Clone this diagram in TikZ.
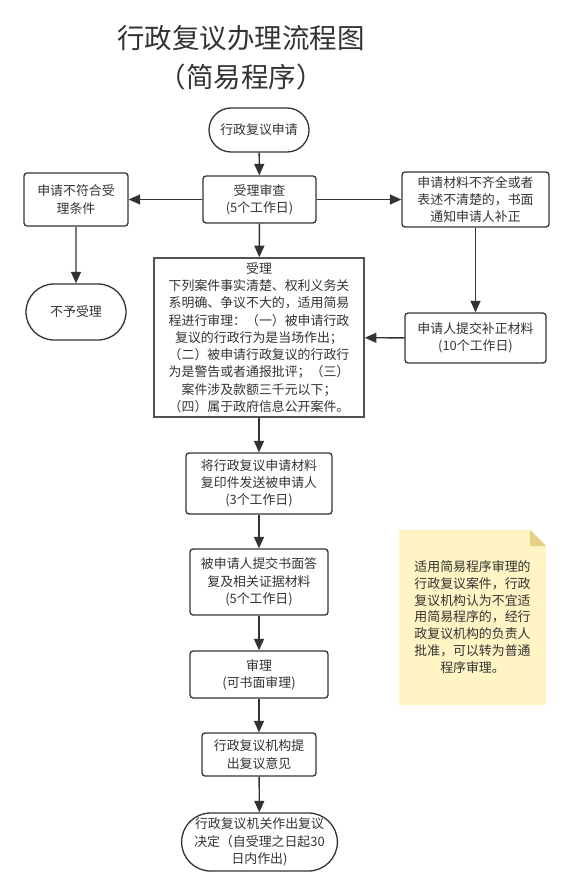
\documentclass[tikz,border=0pt]{standalone}
\usepackage{fontspec}
\setmainfont{Noto Sans CJK SC}
\usetikzlibrary{arrows.meta,shapes.misc}
\definecolor{ink}{HTML}{333333}
\definecolor{notefill}{HTML}{FFF4C3}
\definecolor{notefold}{HTML}{E6CF86}
\begin{document}
\begin{tikzpicture}[x=1pt,y=-1pt,
  every node/.style={text=ink,font=\fontsize{12.9}{17.3}\selectfont,align=center,inner sep=0pt},
  procbox/.style={draw=ink,line width=1.3pt,rounded corners=3pt,fill=white},
  pill/.style={draw=ink,line width=1.3pt,rounded rectangle,fill=white},
  bigbox/.style={draw=ink!85,line width=1.6pt,fill=white},
  flow/.style={draw=ink,line width=1.4pt,-{Triangle[length=11.5pt,width=10pt]}}]
\useasboundingbox (0,0) rectangle (573,896);
% title
\node[font=\fontsize{27.5}{39}\selectfont] (title) at (241,58) {行政复议办理流程图\\（简易程序）};
% nodes
\node[pill,minimum width=100pt,minimum height=44pt] (start) at (259,130) {行政复议申请};
\node[procbox,minimum width=113pt,minimum height=47pt] (review) at (259.5,199.5) {受理审查\\(5个工作日)};
\node[procbox,minimum width=104pt,minimum height=53pt] (left) at (76,199.5) {申请不符合受\\理条件};
\node[pill,minimum width=100pt,minimum height=56pt] (reject) at (76,312) {不予受理};
\node[procbox,minimum width=147pt,minimum height=55pt] (right) at (475.5,199.5) {申请材料不齐全或者\\表述不清楚的，书面\\通知申请人补正};
\node[bigbox,minimum width=210pt,minimum height=159pt] (big) at (259,337.5) {受理\\下列案件事实清楚、权利义务关\\系明确、争议不大的，适用简易\\程进行审理：（一）被申请行政\\复议的行政行为是当场作出；\\（二）被申请行政复议的行政行\\为是警告或者通报批评；（三）\\案件涉及款额三千元以下；\\（四）属于政府信息公开案件。};
\node[procbox,minimum width=141pt,minimum height=50pt] (supp) at (475.5,338) {申请人提交补正材料\\(10个工作日)};
\node[procbox,minimum width=146pt,minimum height=61pt] (copy) at (259,483.5) {将行政复议申请材料\\复印件发送被申请人\\(3个工作日)};
\node[procbox,minimum width=138pt,minimum height=66pt] (reply) at (259,582) {被申请人提交书面答\\复及相关证据材料\\(5个工作日)};
\node[procbox,minimum width=138pt,minimum height=47pt] (hear) at (259,674.5) {审理\\(可书面审理)};
\node[procbox,minimum width=114pt,minimum height=43pt] (opinion) at (259,754.5) {行政复议机构提\\出复议意见};
\node[pill,minimum width=154pt,minimum height=58pt] (final) at (259.5,842) {行政复议机关作出复议\\决定（自受理之日起30\\日内作出)};
% note
\fill[notefill] (399,530) -- (530,530) -- (546,546) -- (546,705) -- (399,705) -- cycle;
\fill[notefold] (530,530) -- (546,546) -- (530,546) -- cycle;
\node[font=\fontsize{12.9}{16.7}\selectfont] (note) at (472.5,617) {适用简易程序审理的\\行政复议案件，行政\\复议机构认为不宜适\\用简易程序的，经行\\政复议机构的负责人\\批准，可以转为普通\\程序审理。};
% connectors
\draw[flow] (start) -- (review);
\draw[flow] (review) -- (left);
\draw[flow] (review) -- (right);
\draw[flow] (review) -- (big);
\draw[flow] (left) -- (reject);
\draw[flow] (right) -- (supp);
\draw[flow] (supp) -- (big);
\draw[flow] (big) -- (copy);
\draw[flow] (copy) -- (reply);
\draw[flow] (reply) -- (hear);
\draw[flow] (hear) -- (opinion);
\draw[flow] (opinion) -- (final);
\end{tikzpicture}
\end{document}
